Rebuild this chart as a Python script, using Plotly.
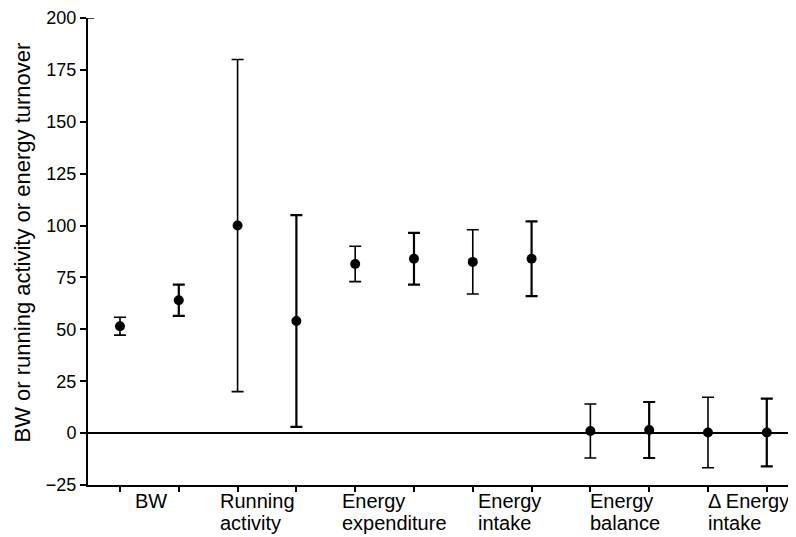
import plotly.graph_objects as go

# ---- data ----
label_line1 = ["BW", "Running", "Energy", "Energy", "Energy", "Δ Energy"]
label_line2 = ["", "activity", "expenditure", "intake", "balance", "intake"]
# first and second measurement of each category pair
group1_mean = [51.5, 100, 81.5, 82.5, 1.0, 0.3]
group1_err = [4.3, 80, 8.5, 15.5, 13.0, 17.0]
group2_mean = [64, 54, 84, 84, 1.5, 0.3]
group2_err = [7.5, 51, 12.5, 18.0, 13.5, 16.3]
y_ticks = [-25, 0, 25, 50, 75, 100, 125, 150, 175, 200]
y_title = "BW or running activity or energy turnover"

# positions: each category holds two points
n = len(label_line1)
x1 = [2 * i for i in range(n)]
x2 = [2 * i + 1 for i in range(n)]

FONT = "Liberation Sans, Arial, sans-serif"

fig = go.Figure()
fig.add_trace(go.Scatter(
    x=x1, y=group1_mean, mode="markers",
    marker=dict(color="black", size=10),
    error_y=dict(type="data", array=group1_err, visible=True,
                 color="black", thickness=1.6, width=6),
    showlegend=False))
fig.add_trace(go.Scatter(
    x=x2, y=group2_mean, mode="markers",
    marker=dict(color="black", size=10),
    error_y=dict(type="data", array=group2_err, visible=True,
                 color="black", thickness=2.2, width=6),
    showlegend=False))

# category labels below the axis (left offsets in point units)
label_offsets = [0.22, -0.33, -0.26, 0.05, -0.04, -0.03]
for i, off in enumerate(label_offsets):
    for txt, shift in ((label_line1[i], -16), (label_line2[i], -38)):
        if txt:
            fig.add_annotation(
                x=2 * i + off, y=0, xref="x", yref="paper",
                text=txt, showarrow=False, xanchor="left", yanchor="middle",
                align="left", yshift=shift,
                font=dict(family=FONT, size=20, color="black"))

# y-axis title
fig.add_annotation(
    x=0, y=0.5, xref="paper", yref="paper", text=y_title, textangle=-90,
    showarrow=False, xanchor="center", yanchor="middle", xshift=-66, yshift=9,
    font=dict(family=FONT, size=22, color="black"))

# small cap at top of y axis
fig.add_shape(type="line", xref="paper", yref="y", xsizemode="pixel",
              xanchor=0, x0=0, x1=6, y0=200, y1=200,
              line=dict(color="black", width=1.5))

fig.update_layout(
    width=788, height=529,
    margin=dict(l=80, r=0, t=10, b=52),
    paper_bgcolor="white", plot_bgcolor="white",
    font=dict(family=FONT, color="black"),
    xaxis=dict(range=[-0.544, 11.497], tickvals=x1 + x2, showticklabels=False,
               ticks="outside", ticklen=5, tickwidth=1.5, tickcolor="black",
               showline=True, linecolor="black", linewidth=2,
               showgrid=False, zeroline=False),
    yaxis=dict(range=[-25, 200], tickvals=y_ticks,
               ticktext=["−25"] + [str(v) for v in y_ticks[1:]],
               ticks="outside", ticklen=6, tickwidth=1.5, tickcolor="black",
               showline=True, linecolor="black", linewidth=2,
               showgrid=False, zeroline=True, zerolinecolor="black",
               zerolinewidth=2,
               tickfont=dict(family=FONT, size=18, color="black")),
)

fig.write_html("out.html")
